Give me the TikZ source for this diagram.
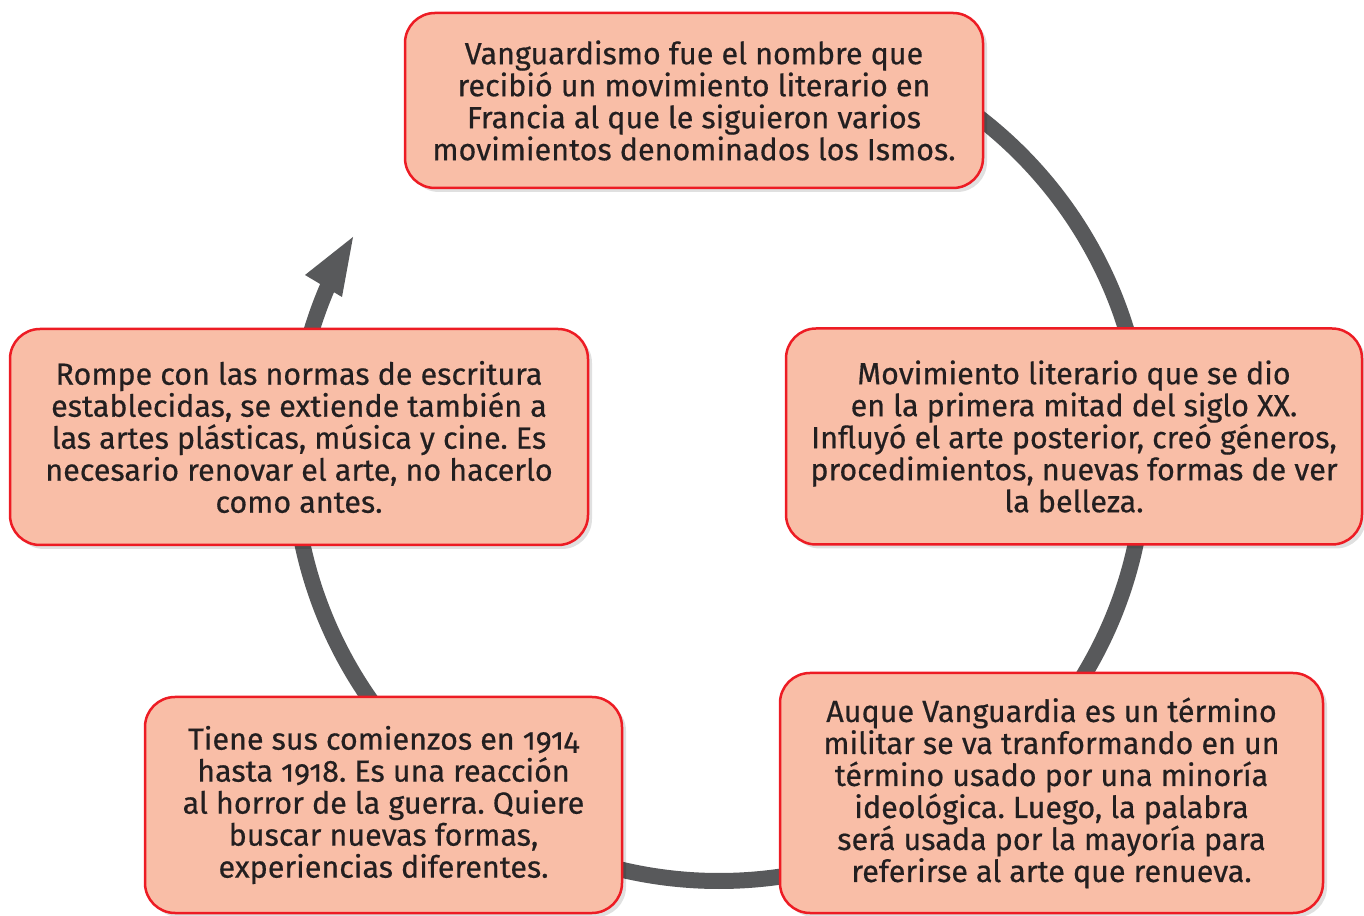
\documentclass[tikz,border=0pt]{standalone}
\usepackage{fontspec}
\setmainfont{Fira Sans}[Numbers=OldStyle, FakeBold=0.5]
\usetikzlibrary{shadows}
\definecolor{boxfill}{HTML}{F9BEA7}
\definecolor{boxline}{HTML}{ED1C24}
\definecolor{ringgray}{HTML}{58595B}
\definecolor{txt}{HTML}{231F20}
\tikzset{
  cyclebox/.style={draw=boxline, fill=boxfill, line width=2.5pt, rounded corners=30pt,
    align=center, text=txt, inner sep=0pt,
    font=\fontsize{30.5}{32}\selectfont\frenchspacing,
    drop shadow={shadow xshift=4pt, shadow yshift=-4pt, fill=black, opacity=0.12}},
  ring/.style={draw=ringgray, line width=16pt},
  ringtip/.style={fill=ringgray}
}
\begin{document}
\begin{tikzpicture}[x=1pt,y=1pt]
\useasboundingbox (0,0) rectangle (1364,915);
% ring behind the boxes
\coordinate (c) at (719,460);
\draw[ring] ([shift={(90:426)}]c) arc[start angle=90, end angle=-204, radius=426];
\coordinate (tip) at (353,678);
\coordinate (wl) at (305,640);
\coordinate (wr) at (342,618);
\fill[ringtip] (tip) -- (wl) -- (wr) -- cycle;
% boxes
\node[cyclebox, minimum width=578pt, minimum height=175pt] (top) at (694,814.5)
 {Vanguardismo fue el nombre que\\recibió un movimiento literario en\\Francia al que le siguieron varios\\movimientos denominados los Ismos.};
\node[cyclebox, minimum width=576pt, minimum height=216pt] (right) at (1074,478.5)
 {Movimiento literario que se dio\\en la primera mitad del siglo XX.\\Influyó el arte posterior, creó géneros,\\procedimientos, nuevas formas de ver\\la belleza.};
\node[cyclebox, minimum width=543pt, minimum height=240pt] (botright) at (1051.5,122)
 {Auque Vanguardia es un término\\militar se va tranformando en un\\término usado por una minoría\\ideológica. Luego, la palabra\\será usada por la mayoría para\\referirse al arte que renueva.};
\node[cyclebox, minimum width=477pt, minimum height=216pt] (botleft) at (383.5,110)
 {Tiene sus comienzos en 1914\\hasta 1918. Es una reacción\\al horror de la guerra. Quiere\\buscar nuevas formas,\\experiencias diferentes.};
\node[cyclebox, minimum width=578pt, minimum height=216pt] (left) at (299,478)
 {Rompe con las normas de escritura\\establecidas, se extiende también a\\las artes plásticas, música y cine. Es\\necesario renovar el arte, no hacerlo\\como antes.};
\end{tikzpicture}
\end{document}
